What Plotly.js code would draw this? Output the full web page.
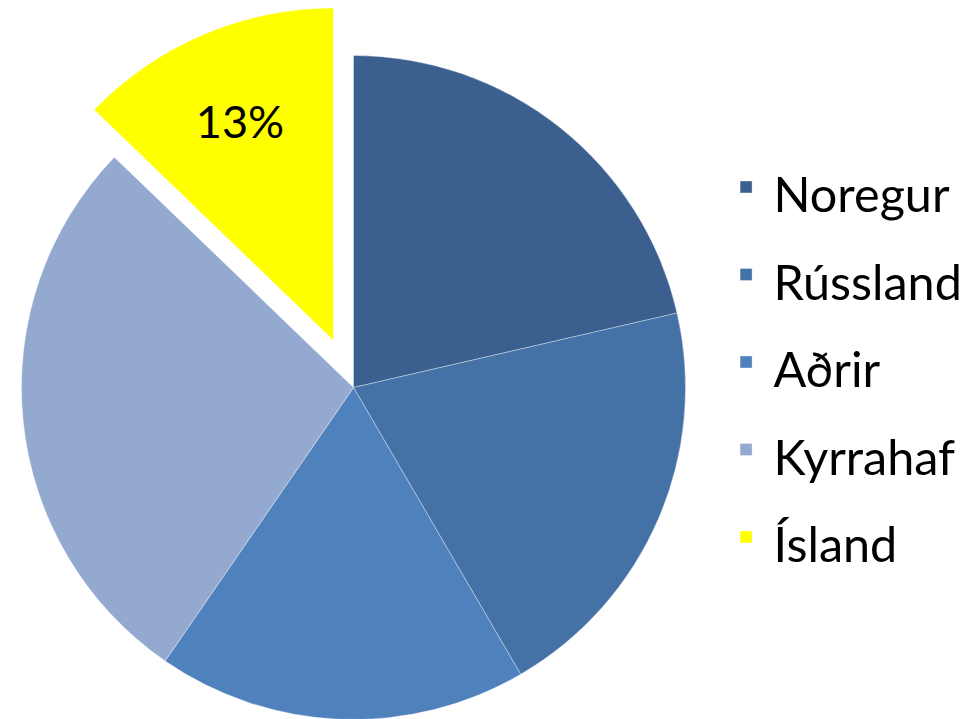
<!DOCTYPE html>
<html>
<head>
<meta charset="utf-8">
<script src="https://cdn.plot.ly/plotly-3.0.1.min.js"></script>
<style>
  html, body { margin: 0; padding: 0; background: #ffffff; }
  #wrap { position: absolute; left: 0; top: 0; width: 978px; height: 719px; overflow: hidden; background: #ffffff; }
  #chart { position: absolute; left: -30px; top: 4px; width: 1010px; height: 767px; }
</style>
</head>
<body>
<div id="wrap"><div id="chart"></div></div>
<script>
// Data (share of total, %)
const categories = ['Noregur', 'Rússland', 'Aðrir', 'Kyrrahaf', 'Ísland'];
const shares = [21.4, 20.2, 18.0, 27.6, 12.8];
const sliceColors = ['#3B5F8E', '#4472A7', '#4F81BD', '#94A9D0', '#FFFF00'];
const pulls = [0, 0, 0, 0, 0.155];
const shownLabel = [false, false, false, false, true];

const legendLabels = categories.map(c => '<span style="font-size:48.5px">' + c + '</span>');
const templates = shownLabel.map(s => s ? '%{percent:.0%}' : '');

const trace = {
  type: 'pie',
  labels: legendLabels,
  values: shares,
  sort: false,
  direction: 'clockwise',
  rotation: 0,
  pull: pulls,
  marker: { colors: sliceColors, line: { color: 'rgba(255,255,255,0.35)', width: 1 } },
  texttemplate: templates,
  textposition: 'inside',
  insidetextorientation: 'horizontal',
  insidetextfont: { family: 'Lato, "Liberation Sans", sans-serif', size: 45, color: '#000000' },
  hoverinfo: 'none',
  domain: { x: [0, 1], y: [0, 1] }
};

const layout = {
  width: 1010,
  height: 767,
  margin: { l: 0, r: 243, t: 0, b: 0, pad: 0 },
  paper_bgcolor: '#ffffff',
  plot_bgcolor: '#ffffff',
  showlegend: true,
  legend: {
    x: 0.976,
    xanchor: 'left',
    y: 0.533,
    yanchor: 'middle',
    font: { family: 'Lato, "Liberation Sans", sans-serif', size: 65, color: '#000000' },
    itemwidth: 45,
    bgcolor: 'rgba(0,0,0,0)',
    borderwidth: 0
  },
  font: { family: 'Lato, "Liberation Sans", sans-serif' }
};

Plotly.newPlot('chart', [trace], layout, { displayModeBar: false, staticPlot: true });
</script>
</body>
</html>
